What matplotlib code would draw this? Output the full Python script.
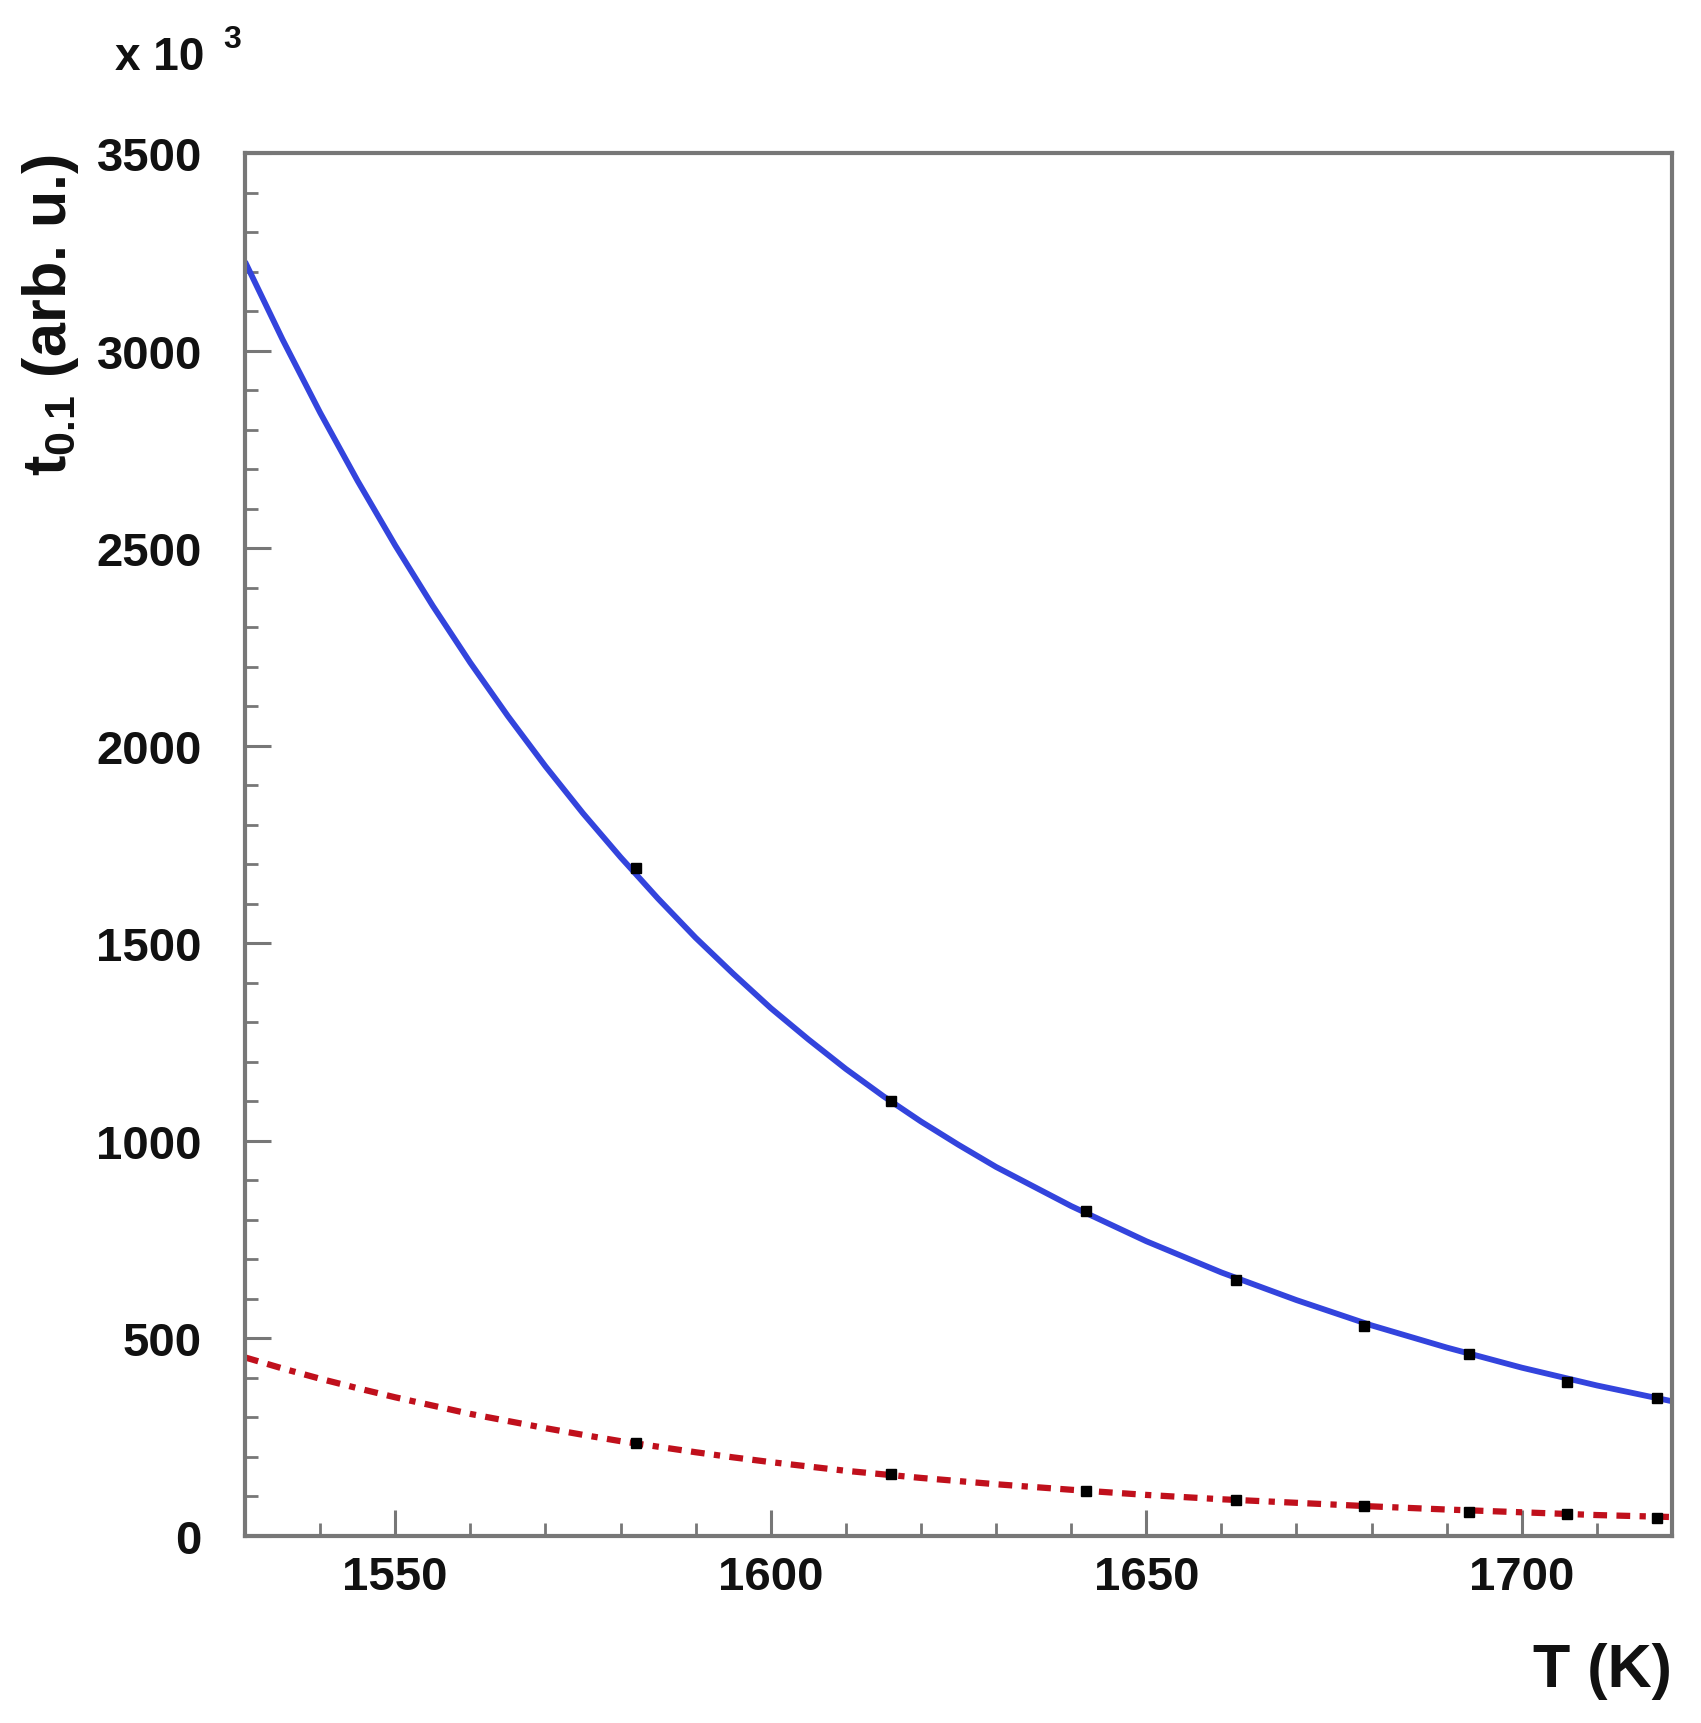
"""
plot.py - t_0.1 versus temperature with two fitted curves (ROOT-like style).
"""

import matplotlib
matplotlib.use("Agg")
import matplotlib.pyplot as plt
from matplotlib.ticker import MultipleLocator

# ─── Data ───────────────────────────────────────────────────────────────────

T_FIT = [1530, 1535, 1540, 1545, 1550, 1555, 1560, 1565, 1570, 1575,
         1580, 1585, 1590, 1595, 1600, 1605, 1610, 1615, 1620, 1625,
         1630, 1640, 1650, 1660, 1670, 1680, 1690, 1700, 1710, 1720]
BLUE_FIT = [3225, 3028, 2843, 2670, 2507, 2354, 2210, 2075, 1948, 1829,
            1718, 1613, 1514, 1423, 1336, 1257, 1182, 1113, 1049, 990,
            934, 835, 746, 667, 597, 533, 477, 426, 381, 341]
RED_FIT = [452, 424, 398, 374, 351, 330, 309, 291, 273, 256,
           240, 226, 212, 199, 187, 176, 165, 156, 147, 139,
           131, 117, 104, 93, 84, 75, 67, 60, 53, 48]

T_DATA = [1582, 1616, 1642, 1662, 1679, 1693, 1706, 1718]
BLUE_DATA = [1691, 1101, 823, 648, 531, 461, 390, 348]
RED_DATA = [236, 158, 115, 92, 75, 62, 55, 46]

X_TICKS = [1550, 1600, 1650, 1700]
Y_TICKS = [0, 500, 1000, 1500, 2000, 2500, 3000, 3500]

# ─── Style ──────────────────────────────────────────────────────────────────

FONT = "Liberation Sans"
FRAME = "#777777"
TEXT = "#111111"
BLUE = "#3344dd"
RED = "#c0101c"

plt.rcParams["font.family"] = [FONT, "DejaVu Sans"]
plt.rcParams["font.weight"] = "bold"
plt.rcParams["mathtext.fontset"] = "custom"
plt.rcParams["mathtext.rm"] = f"{FONT}:bold"
plt.rcParams["mathtext.bf"] = f"{FONT}:bold"

W, H = 1701, 1724
fig = plt.figure(figsize=(W / 100, H / 100), dpi=100)
fig.patch.set_facecolor("white")

# axes box in pixels: left 245, right 1672, top 154, bottom 1537
ax = fig.add_axes([245 / W, 1 - 1537 / H, (1672 - 245) / W, (1537 - 154) / H])

ax.plot(T_FIT, BLUE_FIT, color=BLUE, lw=4.2, solid_capstyle="butt",
        solid_joinstyle="round", zorder=2)
ax.plot(T_FIT, RED_FIT, color=RED, lw=4.5,
        linestyle=(0, (2.2, 1.5, 2.2, 1.5, 1.0, 1.5)), dash_capstyle="butt", zorder=2)
ax.plot(T_DATA, BLUE_DATA, "s", color="black", ms=7.5, zorder=3)
ax.plot(T_DATA, RED_DATA, "s", color="black", ms=7.5, zorder=3)

ax.set_xlim(1530, 1720)
ax.set_ylim(0, 3500)
ax.set_xticks(X_TICKS)
ax.set_yticks(Y_TICKS)
ax.xaxis.set_minor_locator(MultipleLocator(10))
ax.yaxis.set_minor_locator(MultipleLocator(100))

for spine in ax.spines.values():
    spine.set_edgecolor(FRAME)
    spine.set_linewidth(3.0)

ax.tick_params(axis="both", which="both", direction="in", color=FRAME,
               top=False, right=False)
ax.tick_params(axis="both", which="major", length=19, width=2.2, labelsize=34)
ax.tick_params(axis="both", which="minor", length=9.5, width=2.0)
ax.tick_params(axis="x", which="major", pad=14)
ax.tick_params(axis="y", which="major", pad=31)
for lab in ax.get_xticklabels() + ax.get_yticklabels():
    lab.set_fontweight("bold")
    lab.set_color(TEXT)

# axis titles, ROOT style (at the end of each axis)
fig.text(1672 / W, 1 - 1687 / H, "T (K)", ha="right", va="baseline",
         fontsize=44, fontweight="bold", color=TEXT)
fig.text(20 / W, 1 - 154 / H, r"$\mathbf{t_{0.1}}$ (arb. u.)", rotation=90,
         ha="left", va="top", fontsize=44, fontweight="bold", color=TEXT)

# exponent marker
fig.text(115 / W, 1 - 70 / H, "x 10", ha="left", va="baseline",
         fontsize=33, fontweight="bold", color=TEXT)
fig.text(223 / W, 1 - 48 / H, "3", ha="left", va="baseline",
         fontsize=23, fontweight="bold", color=TEXT)

fig.savefig("out.png", dpi=100, facecolor=fig.get_facecolor())
plt.close(fig)
